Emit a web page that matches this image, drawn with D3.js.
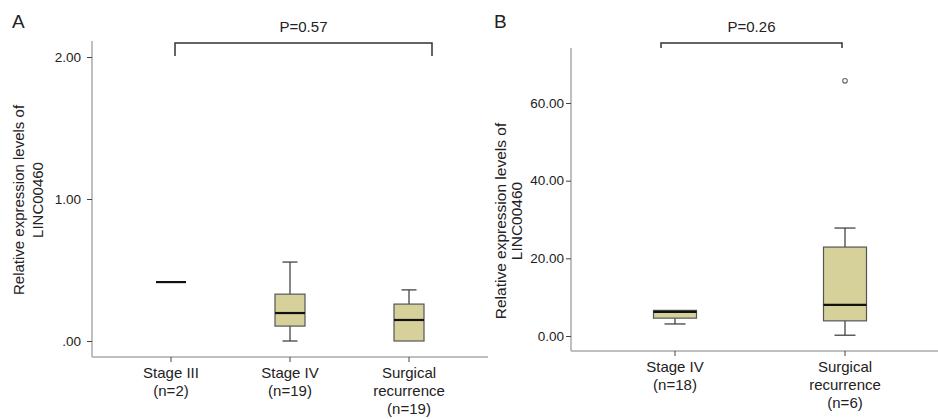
<!DOCTYPE html>
<html>
<head>
<meta charset="utf-8">
<script src="https://cdn.jsdelivr.net/npm/d3@7"></script>
<style>
  body { margin: 0; background: #fff; }
  text { font-family: "Liberation Sans", Arial, Helvetica, sans-serif; fill: #222; }
</style>
</head>
<body>
<div id="chart"></div>
<script>
// panel A data
var catsA = ['Stage III', 'Stage IV', 'Surgical recurrence'];
var labelsA = [['Stage III', '(n=2)'], ['Stage IV', '(n=19)'], ['Surgical', 'recurrence', '(n=19)']];
var minA = [0.415, 0.0, 0.0];
var q1A = [0.415, 0.105, 0.0];
var medA = [0.415, 0.197, 0.148];
var q3A = [0.415, 0.33, 0.26];
var maxA = [0.415, 0.556, 0.36];
var ticksA = [0, 1, 2];
var tickLabelsA = ['.00', '1.00', '2.00'];
var pA = 'P=0.57';

// panel B data
var catsB = ['Stage IV', 'Surgical recurrence'];
var labelsB = [['Stage IV', '(n=18)'], ['Surgical', 'recurrence', '(n=6)']];
var minB = [3.1, 0.2];
var q1B = [4.6, 3.9];
var medB = [6.2, 8.0];
var q3B = [6.6, 22.9];
var maxB = [6.6, 27.8];
var outliersB = [[], [65.7]];
var ticksB = [0, 20, 40, 60];
var tickLabelsB = ['0.00', '20.00', '40.00', '60.00'];
var pB = 'P=0.26';

var svg = d3.select('#chart').append('svg')
    .attr('width', 938)
    .attr('height', 419);

function boxPanel(o) {
  var x = d3.scalePoint().domain(o.cats).range(o.xr);
  var y = d3.scaleLinear().domain(o.yd).range(o.yr);

  // axis lines
  svg.append('line')
      .attr('x1', o.axisX).attr('x2', o.axisX)
      .attr('y1', o.axisTop).attr('y2', o.axisY)
      .attr('stroke', '#aaa').attr('stroke-width', 1.5);
  svg.append('line')
      .attr('x1', o.axisX).attr('x2', o.axisRight)
      .attr('y1', o.axisY).attr('y2', o.axisY)
      .attr('stroke', '#aaa').attr('stroke-width', 1.5);

  // y axis
  var yAxis = d3.axisLeft(y)
      .tickValues(o.ticks)
      .tickFormat((d, i) => o.tickLabels[i])
      .tickSize(o.tickLen)
      .tickPadding(o.tickPad);
  var gy = svg.append('g')
      .attr('transform', `translate(${o.axisX},0)`)
      .call(yAxis);
  gy.select('.domain').remove();
  gy.selectAll('line').attr('stroke', '#444');
  gy.selectAll('text').style('font-size', '13.5px').attr('fill', '#222');

  // x axis ticks and labels
  var gx = svg.append('g');
  o.cats.forEach(function(c, i) {
    gx.append('line')
        .attr('x1', x(c)).attr('x2', x(c))
        .attr('y1', o.axisY).attr('y2', o.axisY + 5)
        .attr('stroke', '#444');
    var t = gx.append('text')
        .attr('text-anchor', 'middle')
        .style('font-size', '15px');
    o.labels[i].forEach(function(l, j) {
      t.append('tspan').attr('x', x(c)).attr('y', o.axisY + 21 + j * 18).text(l);
    });
  });

  // boxes
  var bw = o.boxW, cw = o.capW;
  o.cats.forEach(function(c, i) {
    var cx = x(c);
    var g = svg.append('g');
    g.append('line')
        .attr('x1', cx).attr('x2', cx)
        .attr('y1', y(o.max[i])).attr('y2', y(o.q3[i]))
        .attr('stroke', '#444').attr('stroke-width', 1.3);
    g.append('line')
        .attr('x1', cx).attr('x2', cx)
        .attr('y1', y(o.q1[i])).attr('y2', y(o.min[i]))
        .attr('stroke', '#444').attr('stroke-width', 1.3);
    if (o.max[i] !== o.q3[i]) {
      g.append('line')
          .attr('x1', cx - cw / 2).attr('x2', cx + cw / 2)
          .attr('y1', y(o.max[i])).attr('y2', y(o.max[i]))
          .attr('stroke', '#444').attr('stroke-width', 1.3);
    }
    if (o.min[i] !== o.q1[i]) {
      g.append('line')
          .attr('x1', cx - cw / 2).attr('x2', cx + cw / 2)
          .attr('y1', y(o.min[i])).attr('y2', y(o.min[i]))
          .attr('stroke', '#444').attr('stroke-width', 1.3);
    }
    g.append('rect')
        .attr('x', cx - bw / 2)
        .attr('y', y(o.q3[i]))
        .attr('width', bw)
        .attr('height', Math.max(0, y(o.q1[i]) - y(o.q3[i])))
        .attr('fill', '#d6d19b')
        .attr('stroke', '#555').attr('stroke-width', 1.2);
    g.append('line')
        .attr('x1', cx - bw / 2).attr('x2', cx + bw / 2)
        .attr('y1', y(o.med[i])).attr('y2', y(o.med[i]))
        .attr('stroke', '#111').attr('stroke-width', 2.2);
    (o.outliers ? o.outliers[i] : []).forEach(function(v) {
      g.append('circle')
          .attr('cx', cx).attr('cy', y(v)).attr('r', 2.3)
          .attr('fill', 'none').attr('stroke', '#666').attr('stroke-width', 1.1);
    });
  });

  // significance bracket
  var b = o.bracket;
  svg.append('path')
      .attr('d', `M${b.x1},${b.y + b.h}V${b.y}H${b.x2}V${b.y + b.h}`)
      .attr('fill', 'none').attr('stroke', '#333').attr('stroke-width', 1.5);
  svg.append('text')
      .attr('x', (b.x1 + b.x2) / 2).attr('y', b.y - 11)
      .attr('text-anchor', 'middle')
      .style('font-size', '15px')
      .text(o.p);

  // y axis title
  var yt = svg.append('text')
      .attr('transform', `translate(${o.titleX},${o.titleY}) rotate(-90)`)
      .attr('text-anchor', 'middle')
      .style('font-size', o.titleSize);
  yt.append('tspan').attr('x', 0).attr('y', 0).text('Relative expression levels of');
  yt.append('tspan').attr('x', 0).attr('y', o.titleGap).text('LINC00460');

  // panel letter
  svg.append('text')
      .attr('x', o.letterX).attr('y', 28)
      .style('font-size', '19px')
      .text(o.letter);
}

boxPanel({
  cats: catsA, labels: labelsA,
  min: minA, q1: q1A, med: medA, q3: q3A, max: maxA,
  ticks: ticksA, tickLabels: tickLabelsA, p: pA,
  xr: [171, 409], yd: [0, 2], yr: [341, 57],
  axisX: 92, axisTop: 41, axisY: 357, axisRight: 488,
  tickLen: 5, tickPad: 6,
  boxW: 30, capW: 15,
  bracket: {x1: 175, x2: 432, y: 43, h: 13},
  titleX: 24, titleY: 200, titleGap: 19, titleSize: '15px',
  letter: 'A', letterX: 12
});

boxPanel({
  cats: catsB, labels: labelsB,
  min: minB, q1: q1B, med: medB, q3: q3B, max: maxB, outliers: outliersB,
  ticks: ticksB, tickLabels: tickLabelsB, p: pB,
  xr: [675, 845], yd: [0, 60], yr: [336, 103],
  axisX: 571, axisTop: 48, axisY: 351, axisRight: 938,
  tickLen: 5, tickPad: 2,
  boxW: 43, capW: 21,
  bracket: {x1: 661, x2: 842, y: 43, h: 5},
  titleX: 506, titleY: 221, titleGap: 16, titleSize: '15.5px',
  letter: 'B', letterX: 494
});
</script>
</body>
</html>
